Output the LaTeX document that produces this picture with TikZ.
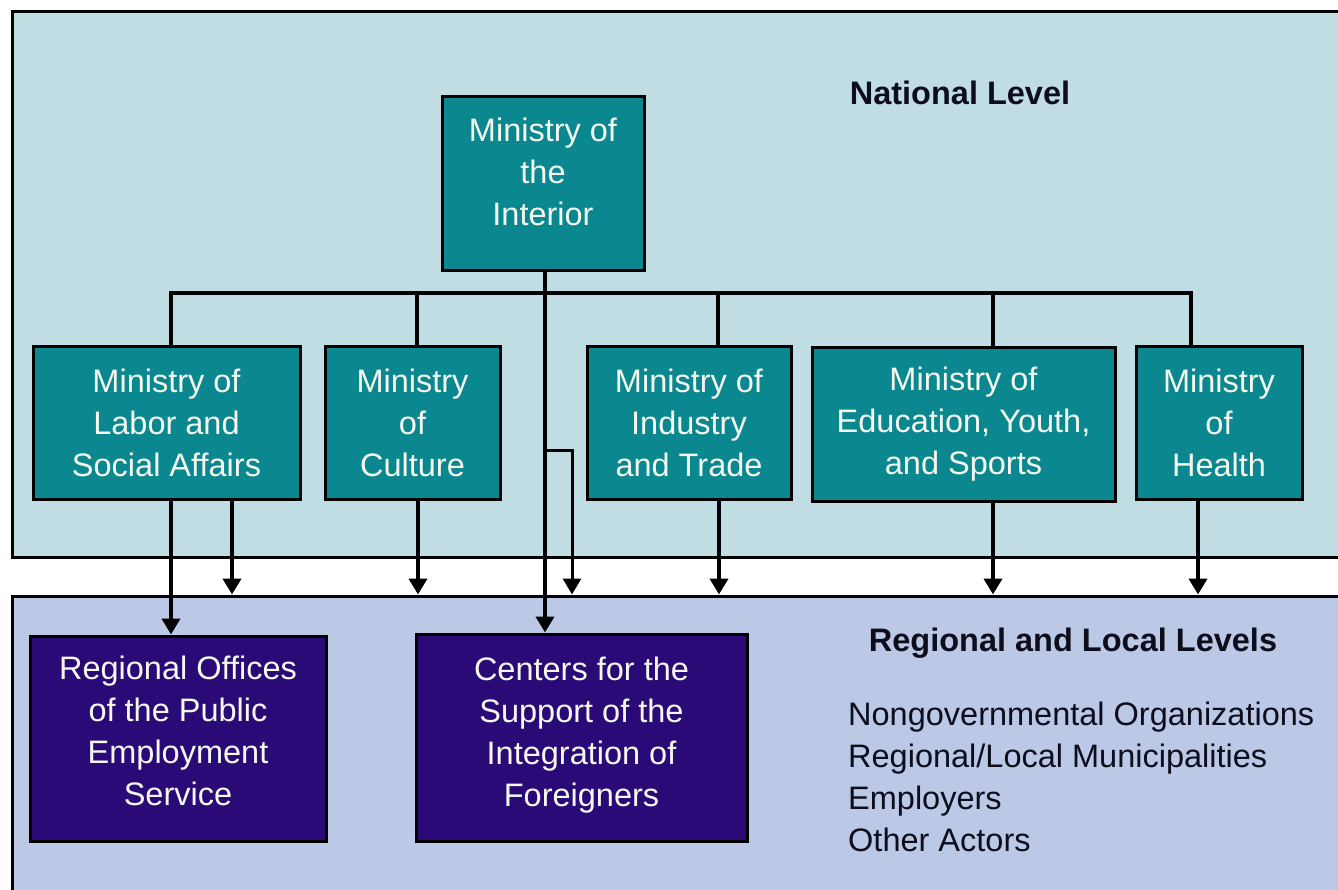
\documentclass[tikz,border=0pt]{standalone}
\usepackage{fontspec}
\setmainfont{Liberation Sans}
\usetikzlibrary{arrows.meta}
\definecolor{natbg}{HTML}{BFDDE2}
\definecolor{locbg}{HTML}{BBC9E7}
\definecolor{ministrycol}{HTML}{0B8790}
\definecolor{officecol}{HTML}{2A0A76}
\definecolor{boxtext}{HTML}{F4F8EE}
\definecolor{headtext}{HTML}{0D0D1C}
\begin{document}
\begin{tikzpicture}[x=1pt,y=-1pt,
  region/.style={draw=black, line width=3pt, inner sep=0pt, minimum width=1338pt},
  ministry/.style={draw=black, fill=ministrycol, line width=3pt, text=boxtext,
    align=center, inner sep=0pt, font=\fontsize{32.5}{42}\selectfont},
  office/.style={ministry, fill=officecol},
  heading/.style={text=headtext, font=\fontsize{32.5}{42}\selectfont\bfseries, inner sep=0pt},
  actors/.style={text=headtext, align=left, inner sep=0pt, font=\fontsize{32.5}{42}\selectfont},
  link/.style={line width=4pt},
  thinlink/.style={line width=3pt},
  arrowlink/.style={link, -{Triangle[width=18pt,length=16pt]}},
  thinarrow/.style={thinlink, -{Triangle[width=18pt,length=16pt]}},
]
\useasboundingbox (0,0) rectangle (1338,890);
\fill[white] (0,0) rectangle (1338,890);
\clip (0,0) rectangle (1338,890);

% level panels
\node[region, fill=natbg, minimum height=545pt] (national) at (681,284.5) {};
\node[region, fill=locbg, minimum height=304pt] (local) at (681,748) {};

% national ministries
\node[ministry, minimum width=202pt, minimum height=174pt] (interior) at (543,184)
  {Ministry of\\the\\Interior\\[-18pt]};
\node[ministry, minimum width=267pt, minimum height=152pt] (labor) at (166.5,423)
  {Ministry of\\Labor and\\Social Affairs};
\node[ministry, minimum width=175pt, minimum height=152pt] (culture) at (412.5,423)
  {Ministry\\of\\Culture};
\node[ministry, minimum width=204pt, minimum height=152pt] (industry) at (689,423)
  {Ministry of\\Industry\\and Trade};
\node[ministry, minimum width=303pt, minimum height=153pt] (education) at (963.5,424.5)
  {Ministry of\\Education, Youth,\\and Sports};
\node[ministry, minimum width=166pt, minimum height=152pt] (health) at (1219,423)
  {Ministry\\of\\Health};

% regional bodies
\node[office, minimum width=296pt, minimum height=205pt] (offices) at (178,738.5)
  {Regional Offices\\of the Public\\Employment\\Service\\[-26pt]};
\node[office, minimum width=331pt, minimum height=207pt] (centers) at (581.5,737.5)
  {Centers for the\\Support of the\\Integration of\\Foreigners\\[-30pt]};

% headings and actor list
\node[heading] (natlabel) at (960,93) {National Level};
\node[heading] (loclabel) at (1073,643) {Regional and Local Levels};
\node[actors, anchor=north west] (actorlist) at (848,702)
  {Nongovernmental Organizations\\Regional/Local Municipalities\\Employers\\Other Actors};

% tree from the Ministry of the Interior
\coordinate (busL) at (171,293);
\coordinate (busR) at (1191,293);
\coordinate (busC) at (417,293);
\coordinate (busI) at (718,293);
\coordinate (busE) at (993,293);
\draw[link] (labor.north -| busL) -- (busL) -- (busR) -- (health.north -| busR);
\draw[link] (busC) -- (culture.north -| busC);
\draw[link] (busI) -- (industry.north -| busI);
\draw[link] (busE) -- (education.north -| busE);
\coordinate (intx) at (545,271);
\draw[arrowlink] (interior.south -| intx) -- (centers.north -| intx);

% branch towards the regional level
\coordinate (branch) at (545,450);
\coordinate (branchx) at (572,450);
\draw[thinarrow] (branch) -- (branchx) -- (local.north -| branchx);

% ministries down to the regional level
\coordinate (aL1) at (171,0);
\coordinate (aL2) at (232,0);
\coordinate (aC) at (418,0);
\coordinate (aI) at (719,0);
\coordinate (aE) at (993,0);
\coordinate (aH) at (1198,0);
\draw[arrowlink] (labor.south -| aL1) -- (offices.north -| aL1);
\draw[arrowlink] (labor.south -| aL2) -- (local.north -| aL2);
\draw[arrowlink] (culture.south -| aC) -- (local.north -| aC);
\draw[arrowlink] (industry.south -| aI) -- (local.north -| aI);
\draw[arrowlink] (education.south -| aE) -- (local.north -| aE);
\draw[arrowlink] (health.south -| aH) -- (local.north -| aH);
\end{tikzpicture}
\end{document}
